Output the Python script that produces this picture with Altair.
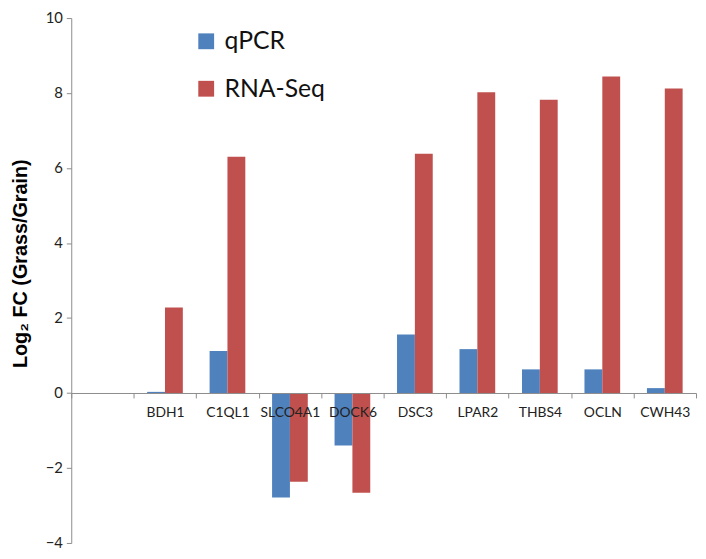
import altair as alt
import pandas as pd

genes = ["BDH1", "C1QL1", "SLCO4A1", "DOCK6", "DSC3", "LPAR2", "THBS4", "OCLN", "CWH43"]
qpcr = [0.03, 1.12, -2.79, -1.40, 1.56, 1.17, 0.63, 0.63, 0.13]
rnaseq = [2.28, 6.30, -2.37, -2.66, 6.38, 8.02, 7.82, 8.44, 8.12]
series_names = ["qPCR", "RNA-Seq"]
colors = ["#4F81BD", "#C0504D"]
y_ticks = [-4, -2, 0, 2, 4, 6, 8, 10]

rows = []
for g, q, r in zip(genes, qpcr, rnaseq):
    rows.append({"gene": g, "series": "qPCR", "value": q})
    rows.append({"gene": g, "series": "RNA-Seq", "value": r})
df = pd.DataFrame(rows)

W, H = 632, 531
y0_from_bottom = H * 4 / 14

chart = alt.Chart(df).mark_bar().encode(
    x=alt.X("gene:N",
            scale=alt.Scale(domain=[" "] + genes, paddingInner=0, paddingOuter=0),
            sort=None,
            axis=alt.Axis(title=None, labelAngle=0, offset=-y0_from_bottom, zindex=1,
                          tickBand="extent", tickSize=5, tickColor="#8c8c8c",
                          domainColor="#8c8c8c", labelFont="Lato", labelFontSize=14,
                          labelColor="#222", labelPadding=8)),
    xOffset=alt.XOffset("series:N", scale=alt.Scale(domain=series_names,
                                                    paddingInner=0, paddingOuter=0.75)),
    y=alt.Y("value:Q",
            scale=alt.Scale(domain=[-4, 10], nice=False, zero=False),
            axis=alt.Axis(values=y_ticks, grid=False, tickSize=5, tickColor="#8c8c8c",
                          domainColor="#8c8c8c", labelFont="Lato", labelFontSize=15,
                          labelColor="#222", labelPadding=4,
                          title="Log₂ FC (Grass/Grain)", titleFont="Liberation Sans",
                          titleFontSize=20, titleFontWeight="bold", titleColor="#000",
                          titleAngle=-90, titleX=-51, titleY=248,
                          titleAlign="center", titleBaseline="middle")),
    color=alt.Color("series:N",
                    scale=alt.Scale(domain=series_names, range=colors),
                    legend=alt.Legend(title=None, orient="none", legendX=124, legendY=11,
                                      symbolType="square", symbolSize=256,
                                      symbolStrokeWidth=0, labelFont="Lato",
                                      labelFontSize=25, labelColor="#111",
                                      labelOffset=6, rowPadding=22)),
).properties(
    width=W, height=H,
    autosize=alt.AutoSizeParams(type="none"),
    padding={"left": 64, "top": 7, "right": 2, "bottom": 10},
).configure(background="white").configure_view(stroke="transparent", strokeWidth=0)

chart.save("out.html", embed_options={"renderer": "svg", "actions": False})
